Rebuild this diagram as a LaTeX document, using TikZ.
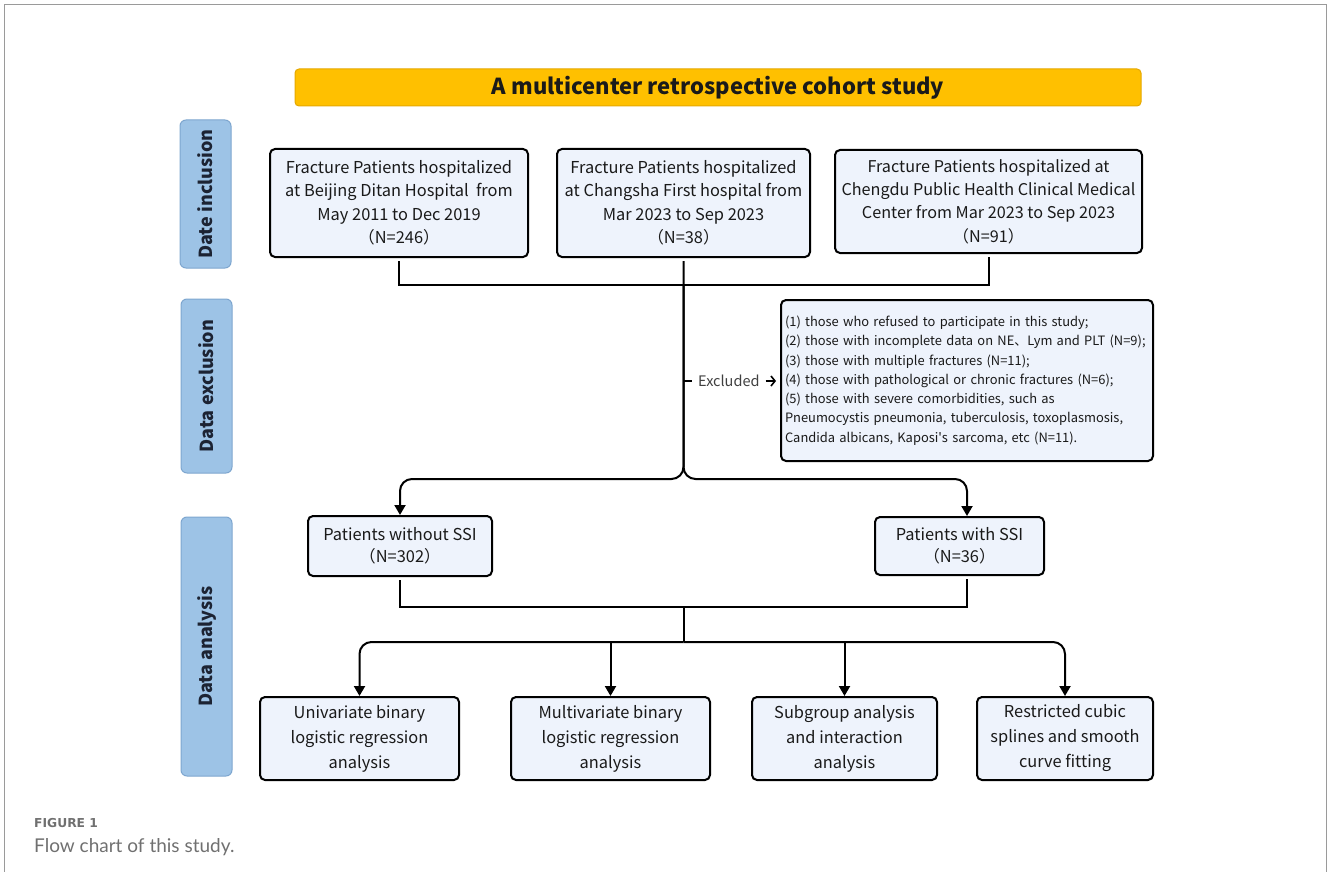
\documentclass[tikz,border=0pt]{standalone}
\usepackage{fontspec}
\setmainfont{Noto Sans CJK SC}
\newfontfamily\capfont{Lato}
\newfontfamily\figfont{DejaVu Sans}
\usetikzlibrary{arrows.meta}
\definecolor{boxfill}{HTML}{EEF3FC}
\definecolor{sidefill}{HTML}{9DC3E6}
\definecolor{sidedraw}{HTML}{7EA6CF}
\definecolor{titlefill}{HTML}{FFC000}
\definecolor{titledraw}{HTML}{E5A800}
\definecolor{sidetxt}{HTML}{1C2333}
\definecolor{txt}{HTML}{1A1A1A}
\definecolor{exctxt}{HTML}{404040}
\definecolor{bordercol}{HTML}{9A9A9A}
\definecolor{capgray}{HTML}{707070}
\begin{document}
\begin{tikzpicture}[x=1pt,y=-1pt,
  box/.style={draw=black, line width=2pt, rounded corners=5pt, fill=boxfill, align=center, inner sep=0pt, text=txt, font=\fontsize{16.4}{23.5}\selectfont},
  side/.style={draw=sidedraw, line width=1pt, fill=sidefill, rounded corners=6pt, rotate=90, inner sep=0pt, minimum height=51pt, text=sidetxt, font=\bfseries\fontsize{18}{20}\selectfont},
  line/.style={line width=2pt, draw=black},
  arr/.style={line, -{Triangle[length=10pt,width=11pt]}},
]
\useasboundingbox (0,0) rectangle (1328,872);
\draw[bordercol, line width=1.5pt] (4.5,872) -- (4.5,4.5) -- (1326.5,4.5) -- (1326.5,872);

% title
\node[draw=titledraw, fill=titlefill, line width=1pt, rounded corners=4pt, minimum width=846pt, minimum height=37pt, inner sep=0pt, text=txt, font=\bfseries\fontsize{22}{26}\selectfont] (title) at (718,87.5) {A multicenter retrospective cohort study};

% side labels
\node[side, minimum width=148pt] (inc) at (205.5,194) {Date inclusion};
\node[side, minimum width=174pt] (exc) at (206.5,386) {Data exclusion};
\node[side, minimum width=259pt] (ana) at (206.5,646.5) {Data analysis};

% row 1
\node[box, minimum width=258pt, minimum height=108pt] (b1) at (399,203) {Fracture Patients hospitalized\\at Beijing Ditan Hospital\ \ from\\May 2011 to Dec 2019\\（N=246）};
\node[box, minimum width=253pt, minimum height=108pt] (b2) at (683.5,203) {Fracture Patients hospitalized\\at Changsha First hospital from\\Mar 2023 to Sep 2023\\（N=38）};
\node[box, minimum width=307pt, minimum height=103pt, font=\fontsize{16.2}{23.3}\selectfont] (b3) at (988.5,201.5) {Fracture Patients hospitalized at\\Chengdu Public Health Clinical Medical\\Center from Mar 2023 to Sep 2023\\（N=91）};

% exclusion box
\node[box, align=left, text width=364pt, inner xsep=4pt, minimum height=161pt, font=\fontsize{12.9}{19.3}\selectfont] (excl) at (967,380.5) {(1) those who refused to participate in this study;\\(2) those with incomplete data on NE、Lym and PLT (N=9);\\(3) those with multiple fractures (N=11);\\(4) those with pathological or chronic fractures (N=6);\\(5) those with severe comorbidities, such as\\Pneumocystis pneumonia, tuberculosis, toxoplasmosis,\\Candida albicans, Kaposi\textquotesingle s sarcoma, etc (N=11).};

% row 2
\node[box, minimum width=184pt, minimum height=60pt, font=\fontsize{16.4}{22}\selectfont] (p1) at (400,546) {Patients without SSI\\（N=302）};
\node[box, minimum width=169pt, minimum height=58pt, font=\fontsize{16.4}{22}\selectfont] (p2) at (959.5,546) {Patients with SSI\\（N=36）};

% row 3
\node[box, minimum width=199pt, minimum height=83pt, font=\fontsize{16.4}{25}\selectfont] (a1) at (359.5,738.5) {Univariate binary\\logistic regression\\analysis};
\node[box, minimum width=199pt, minimum height=83pt, font=\fontsize{16.4}{25}\selectfont] (a2) at (610.5,738.5) {Multivariate binary\\logistic regression\\analysis};
\node[box, minimum width=185pt, minimum height=83pt, font=\fontsize{16.4}{25}\selectfont] (a3) at (844.5,738.5) {Subgroup analysis\\and interaction\\analysis};
\node[box, minimum width=176pt, minimum height=83pt, font=\fontsize{16.4}{25}\selectfont] (a4) at (1065,738.5) {Restricted cubic\\splines and smooth\\curve fitting};

% junctions
\coordinate (j1) at (683.5,285);
\coordinate (s1) at (683.5,479);
\coordinate (j2) at (683.5,607);
\coordinate (j3) at (683.5,642);
\coordinate (p2top) at ([xshift=7.5pt]p2.north);
\coordinate (p2bot) at ([xshift=7.5pt,yshift=-3pt]p2.south);

% connectors
\draw[line] ([yshift=-3pt]b1.south) -- (b1.south |- j1) -- (b3.south |- j1) -- ([yshift=-3pt]b3.south);
\draw[arr, rounded corners=12pt] ([yshift=-3pt]b2.south) -- (s1) -| (p1.north);
\draw[arr, rounded corners=12pt] (j1) -- (s1) -| (p2top);

\draw[line] (j1 |- excl.west) -- ++(8,0);
\node[anchor=west, inner sep=0pt, text=exctxt, font=\fontsize{14.5}{16}\selectfont] (exl) at (698,381) {Excluded};
\draw[line width=1.6pt, -{Straight Barb[length=4pt,width=10pt]}, shorten >=4pt] ([xshift=6pt]exl.east) -- (excl.west |- exl.east);

\draw[line] ([yshift=-3pt]p1.south) -- (p1.south |- j2) -- (p2bot |- j2) -- (p2bot);
\draw[line] (j2) -- (j3);
\draw[arr, rounded corners=12pt] (j3) -| (a1.north);
\draw[arr, rounded corners=12pt] (j3) -| (a4.north);
\draw[arr] (a2.north |- j3) -- (a2.north);
\draw[arr] (a3.north |- j3) -- (a3.north);

% caption
\node[anchor=base west, inner sep=0pt, text=capgray, font=\figfont\bfseries\fontsize{12.3}{15}\selectfont] (fig) at (34,827) {FIGURE 1};
\node[anchor=base west, inner sep=0pt, text=capgray, font=\capfont\fontsize{19}{22}\selectfont] (cap) at (34,852) {Flow chart of this study.};
\end{tikzpicture}
\end{document}
